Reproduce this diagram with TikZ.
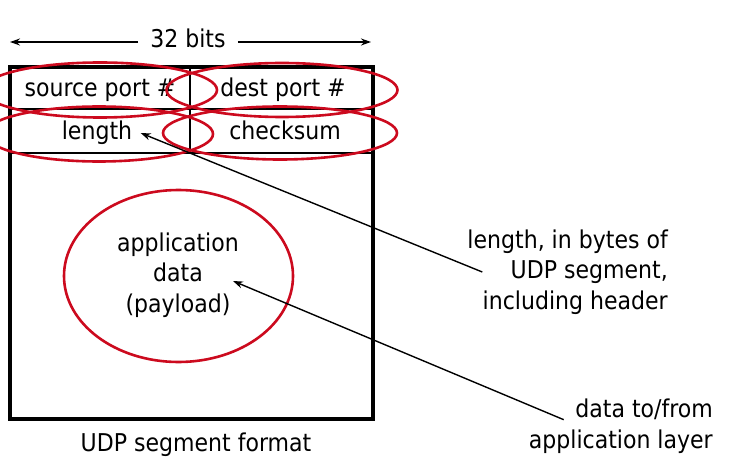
\documentclass[tikz,border=0pt]{standalone}
\usepackage{fontspec}
\setmainfont{DejaVu Sans Condensed}
\usetikzlibrary{shapes.geometric,arrows.meta}
\definecolor{SlideRed}{RGB}{204,10,30}
\tikzset{
  hoop/.style={draw=SlideRed,line width=2.6pt,ellipse,inner sep=0pt},
  pointer/.style={-{Stealth[length=10pt,width=7pt]},line width=1.4pt},
  note/.style={align=right,anchor=east,inner sep=0pt},
}

\begin{document}
\begin{tikzpicture}[x=1pt,y=-1pt,font=\fontsize{24.5}{30.5}\selectfont]
\useasboundingbox (0,0) rectangle (746,465);
\draw[line width=3.6pt] (10,67) rectangle (373,419);
\draw[line width=2pt] (10,109)--(373,109) (10,153)--(373,153) (190,67)--(190,153);
\node[inner sep=12pt] (bits) at (188,38) {32 bits};
\coordinate (bitsleft) at (10,42);
\coordinate (bitsright) at (371,42);
\draw[pointer] (bits.west |- bitsleft)--(bitsleft);
\draw[pointer] (bits.east |- bitsright)--(bitsright);
\node (srcport) at (100,90) {source port \#};
\node (dstport) at (283,90) {dest port \#};
\node (len) at (97,133) {length};
\node (chk) at (285,130) {checksum};
\node[align=center] (payload) at (178,275) {application\\data\\(payload)};
\node[hoop,minimum width=234pt,minimum height=55pt] (srcring) at (100,90) {};
\node[hoop,minimum width=231pt,minimum height=54pt] (dstring) at (282,90) {};
\node[hoop,minimum width=228pt,minimum height=55pt] (lenring) at (99,134) {};
\node[hoop,minimum width=234pt,minimum height=53pt] (chkring) at (280,133) {};
\node[hoop,minimum width=229pt,minimum height=172pt] (payring) at (178.5,276) {};
\node[note] (lennote) at (668,272) {length, in bytes of\\UDP segment,\\including header};
\node[note] (datanote) at (713,426) {data to/from\\application layer};
\node (caption) at (196,445) {UDP segment format};
\coordinate (paytip) at (233,281);
\draw[pointer] ([xshift=15pt]lennote.west)--([xshift=5pt]len.east);
\draw[pointer] ([xshift=35pt,yshift=-21pt]datanote.north west)--(paytip);
\end{tikzpicture}
\end{document}
